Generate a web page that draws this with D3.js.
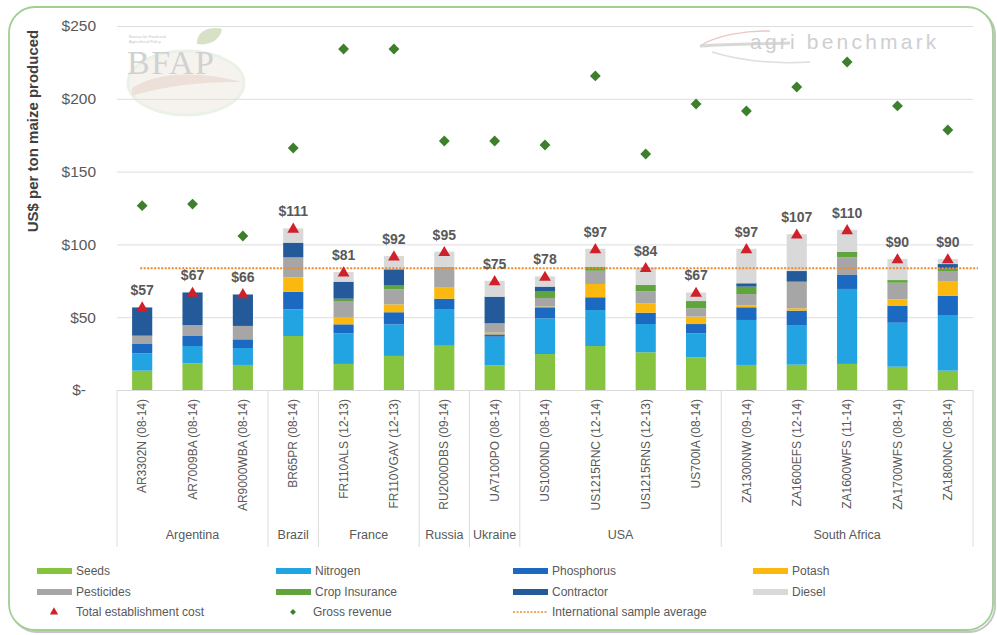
<!DOCTYPE html>
<html>
<head>
  <meta charset="utf-8">
  <title>Maize establishment cost vs gross revenue</title>
  <script src="https://d3js.org/d3.v7.min.js"></script>
  <style>
    body { margin: 0; background: #fff; }
    svg text { font-family: "Liberation Sans", Arial, sans-serif; }
  </style>
</head>
<body>
<svg id="chart" width="997" height="635"></svg>
<script>
// farms (x categories) and their country groups
const farms = ["AR3302N (08-14)", "AR7009BA (08-14)", "AR9000WBA (08-14)", "BR65PR (08-14)",
  "FR110ALS (12-13)", "FR110VGAV (12-13)", "RU2000DBS (09-14)", "UA7100PO (08-14)",
  "US1000ND (08-14)", "US1215RNC (12-14)", "US1215RNS (12-13)", "US700IA (08-14)",
  "ZA1300NW (09-14)", "ZA1600EFS (12-14)", "ZA1600WFS (11-14)", "ZA1700WFS (08-14)", "ZA1800NC (08-14)"];
const countries = ["Argentina", "Brazil", "France", "Russia", "Ukraine", "USA", "South Africa"];
const countrySizes = [3, 1, 2, 1, 1, 4, 5];

// cost components, US$ per ton
const seeds      = [13.3, 18.3, 17.2, 37.1, 17.9, 23.4, 30.4, 16.9, 24.7, 30.2, 25.9, 22.4, 17.2, 17.4, 17.9, 16.0, 13.3];
const nitrogen   = [11.9, 11.9, 11.6, 18.3, 21.0, 21.7, 25.2, 19.7, 24.5, 24.7, 19.4, 16.5, 30.9, 27.2, 51.5, 30.2, 38.2];
const phosphorus = [6.4, 6.9, 6.0, 12.1, 6.2, 8.3, 7.1, 1.6, 7.6, 8.8, 7.8, 6.4, 8.7, 9.9, 9.6, 11.5, 13.1];
const potash     = [0, 0, 0, 9.9, 4.6, 5.4, 7.6, 1.2, 0.5, 9.1, 6.4, 5.1, 1.4, 1.6, 0, 4.6, 9.8];
const pesticides = [5.7, 7.5, 9.2, 13.7, 11.0, 10.4, 14.4, 6.4, 5.9, 9.1, 8.3, 5.7, 7.7, 18.3, 12.1, 11.4, 7.3];
const cropIns    = [0, 0, 0, 0, 2.0, 2.9, 0, 0, 4.8, 2.8, 4.3, 5.0, 5.1, 0, 3.7, 1.8, 1.6];
const contractor = [19.5, 22.4, 21.7, 10.1, 11.7, 10.8, 0, 18.3, 3.0, 0, 0, 0, 2.3, 7.3, 0, 0, 3.2];
const diesel     = [0.2, 0, 0.3, 9.8, 6.6, 9.1, 10.3, 10.9, 7.0, 12.3, 11.9, 5.9, 23.7, 25.3, 15.2, 14.5, 3.5];

const totalCost = [57, 67, 66, 111, 81, 92, 95, 75, 78, 97, 84, 67, 97, 107, 110, 90, 90];
const grossRevenue = [126.6, 127.7, 105.8, 166.2, 234.2, 234.2, 171, 171, 168.3, 215.7, 162.1, 196.4, 191.6, 208.1, 225.3, 195.1, 178.6];
const sampleAverage = 83.6;

const yTicks = [0, 50, 100, 150, 200, 250];

const seriesNames = ["Seeds", "Nitrogen", "Phosphorus", "Potash", "Pesticides", "Crop Insurance", "Contractor", "Diesel"];
const seriesValues = [seeds, nitrogen, phosphorus, potash, pesticides, cropIns, contractor, diesel];
const seriesColors = ["#86c440", "#22a3e2", "#1b69c0", "#fbb910", "#a6a6a6", "#5fa53b", "#245a99", "#d9d9d9"];

const svg = d3.select("#chart");

// outer rounded frame
svg.append("rect")
    .attr("x", 11).attr("y", 9).attr("width", 984).attr("height", 623)
    .attr("rx", 26)
    .attr("fill", "none").attr("stroke", "#c4c4c4").attr("stroke-width", 2);
svg.append("rect")
    .attr("x", 9).attr("y", 7).attr("width", 984).attr("height", 623)
    .attr("rx", 26)
    .attr("fill", "#fff").attr("stroke", "#9fcf92").attr("stroke-width", 1.8);

// watermark logos
const bfap = svg.append("g").attr("opacity", 0.75);
bfap.append("ellipse")
    .attr("cx", 186).attr("cy", 83).attr("rx", 58).attr("ry", 32)
    .attr("fill", "#f3efea").attr("stroke", "#e4eedf").attr("stroke-width", 3);
bfap.append("path")
    .attr("d", "M132,88 C160,70 205,72 242,82 C210,82 170,84 132,96 Z")
    .attr("fill", "#e6d6cc");
bfap.append("path")
    .attr("d", "M197,44 C196,30 212,26 222,29 C220,40 210,46 197,44 Z")
    .attr("fill", "#c9d8b4");
bfap.append("text").attr("x", 129).attr("y", 38).attr("font-size", 4).attr("fill", "#b0b0b0").text("Bureau for Food and");
bfap.append("text").attr("x", 129).attr("y", 43).attr("font-size", 4).attr("fill", "#b0b0b0").text("Agricultural Policy");
bfap.append("text")
    .attr("x", 127).attr("y", 74)
    .style("font-family", "'Liberation Serif', 'DejaVu Serif', serif")
    .attr("font-size", 34).attr("fill", "#c2c2c2")
    .attr("letter-spacing", 1.5)
    .text("BFAP");

const agri = svg.append("g").attr("opacity", 0.8);
agri.append("path").attr("d", "M700,46 C715,36 745,30 770,31").attr("fill", "none").attr("stroke", "#e7b9b9").attr("stroke-width", 1.5);
agri.append("path").attr("d", "M700,46 C730,44 760,44 790,43").attr("fill", "none").attr("stroke", "#cfcfcf").attr("stroke-width", 3);
agri.append("path").attr("d", "M712,52 C745,62 780,64 810,62").attr("fill", "none").attr("stroke", "#d6d6d6").attr("stroke-width", 1.5);
agri.append("text")
    .attr("x", 750).attr("y", 49)
    .attr("font-size", 21).attr("fill", "#c4c4c4")
    .attr("letter-spacing", 3.2)
    .text("agri benchmark");

// scales
const x = d3.scaleBand()
    .domain(farms)
    .range([117, 973])
    .paddingInner(0.6)
    .paddingOuter(0.3);

const y = d3.scaleLinear()
    .domain([0, 250])
    .range([390, 26]);

// y axis with gridlines
const yAxis = svg.append("g")
    .attr("transform", "translate(117,0)")
    .call(d3.axisLeft(y)
        .tickValues(yTicks)
        .tickSize(-856)
        .tickPadding(21)
        .tickFormat(d => d === 0 ? "$-" : "$" + d));
yAxis.select(".domain").remove();
yAxis.selectAll(".tick line")
    .attr("stroke", "#dedede")
    .attr("stroke-width", 1)
    .filter(d => d === 0).remove();
yAxis.selectAll(".tick text")
    .attr("fill", "#595959")
    .attr("font-size", 15.5)
    .filter(d => d === 0).attr("dx", -10);

svg.append("text")
    .attr("transform", "translate(38,131) rotate(-90)")
    .attr("text-anchor", "middle")
    .attr("font-size", 15)
    .attr("font-weight", "bold")
    .attr("fill", "#404040")
    .text("US$ per ton maize produced");

// stacked bars
const stackRows = farms.map((f, i) => {
  const row = { farm: f };
  seriesNames.forEach((s, k) => { row[s] = seriesValues[k][i]; });
  return row;
});
const stacked = d3.stack().keys(seriesNames)(stackRows);
const color = d3.scaleOrdinal().domain(seriesNames).range(seriesColors);

svg.append("g")
  .selectAll("g")
  .data(stacked)
  .enter()
  .append("g")
    .attr("fill", d => color(d.key))
  .selectAll("rect")
  .data(d => d)
  .enter()
  .append("rect")
    .attr("x", d => x(d.data.farm))
    .attr("y", d => y(d[1]))
    .attr("width", x.bandwidth())
    .attr("height", d => y(d[0]) - y(d[1]));

// category axis (farm labels)
const xAxis = svg.append("g")
    .attr("transform", "translate(0,390)")
    .call(d3.axisBottom(x).tickSize(0).tickSizeOuter(0));
xAxis.select(".domain").attr("stroke", "#d9d9d9");
xAxis.selectAll(".tick text")
    .attr("transform", "rotate(-90)")
    .attr("text-anchor", "end")
    .attr("x", -9)
    .attr("y", 0)
    .attr("dy", "0.35em")
    .attr("fill", "#595959")
    .attr("font-size", 12);

// country groups with separators
const step = x.step();
const gap = (step - x.bandwidth()) / 2;
let start = 0;
const groups = countries.map((c, i) => {
  const first = farms[start];
  const last = farms[start + countrySizes[i] - 1];
  start += countrySizes[i];
  return { name: c, x0: x(first) - gap, x1: x(last) + x.bandwidth() + gap };
});

const bounds = [groups[0].x0].concat(groups.map(g => g.x1));
svg.append("g")
  .selectAll("line")
  .data(bounds)
  .enter()
  .append("line")
    .attr("x1", d => d).attr("x2", d => d)
    .attr("y1", 390).attr("y2", 547)
    .attr("stroke", "#dcdcdc");

svg.append("g")
  .selectAll("text")
  .data(groups)
  .enter()
  .append("text")
    .attr("x", d => (d.x0 + d.x1) / 2)
    .attr("y", 539)
    .attr("text-anchor", "middle")
    .attr("font-size", 12.5)
    .attr("fill", "#595959")
    .text(d => d.name);

// international sample average
svg.append("line")
    .attr("x1", x(farms[0]) + x.bandwidth() / 2 - 2)
    .attr("x2", 978)
    .attr("y1", y(sampleAverage)).attr("y2", y(sampleAverage))
    .attr("stroke", "#ef8a2a")
    .attr("stroke-width", 2)
    .attr("stroke-dasharray", "2,1.5");

// gross revenue diamonds
const diamond = d3.symbol().type(d3.symbolDiamond2).size(75);
svg.append("g")
  .selectAll("path")
  .data(grossRevenue)
  .enter()
  .append("path")
    .attr("d", diamond)
    .attr("transform", (d, i) => `translate(${x(farms[i]) + x.bandwidth() / 2},${y(d)})`)
    .attr("fill", "#3d7f2c");

// total cost triangles and labels
const tri = d3.symbol().type(d3.symbolTriangle).size(60);
svg.append("g")
  .selectAll("path")
  .data(totalCost)
  .enter()
  .append("path")
    .attr("d", tri)
    .attr("transform", (d, i) => `translate(${x(farms[i]) + x.bandwidth() / 2},${y(d) + 1})`)
    .attr("fill", "#d0202a");

svg.append("g")
  .selectAll("text")
  .data(totalCost)
  .enter()
  .append("text")
    .attr("x", (d, i) => x(farms[i]) + x.bandwidth() / 2)
    .attr("y", d => y(d) - 12)
    .attr("text-anchor", "middle")
    .attr("font-size", 14)
    .attr("font-weight", "bold")
    .attr("fill", "#595959")
    .text(d => "$" + d);

// legend
const legendCols = [37, 276, 513, 753];
const legendRows = [571, 592, 612];
const legend = svg.append("g");
seriesNames.forEach((s, k) => {
  const cx = legendCols[k % 4];
  const cy = legendRows[Math.floor(k / 4)];
  legend.append("rect")
      .attr("x", cx).attr("y", cy - 3)
      .attr("width", 35).attr("height", 6)
      .attr("fill", color(s));
  legend.append("text")
      .attr("x", cx + 39).attr("y", cy)
      .attr("dy", "0.35em")
      .attr("font-size", 12)
      .attr("fill", "#595959")
      .text(s);
});
legend.append("path")
    .attr("d", d3.symbol().type(d3.symbolTriangle).size(30))
    .attr("transform", `translate(54,${legendRows[2]})`)
    .attr("fill", "#d0202a");
legend.append("text")
    .attr("x", 76).attr("y", legendRows[2]).attr("dy", "0.35em")
    .attr("font-size", 12).attr("fill", "#595959")
    .text("Total establishment cost");
legend.append("path")
    .attr("d", d3.symbol().type(d3.symbolDiamond2).size(22))
    .attr("transform", `translate(293,${legendRows[2]})`)
    .attr("fill", "#3d7f2c");
legend.append("text")
    .attr("x", 313).attr("y", legendRows[2]).attr("dy", "0.35em")
    .attr("font-size", 12).attr("fill", "#595959")
    .text("Gross revenue");
legend.append("line")
    .attr("x1", 513).attr("x2", 548)
    .attr("y1", legendRows[2]).attr("y2", legendRows[2])
    .attr("stroke", "#ef8a2a").attr("stroke-width", 1.5)
    .attr("stroke-dasharray", "2,1.5");
legend.append("text")
    .attr("x", 552).attr("y", legendRows[2]).attr("dy", "0.35em")
    .attr("font-size", 12).attr("fill", "#595959")
    .text("International sample average");
</script>
</body>
</html>
